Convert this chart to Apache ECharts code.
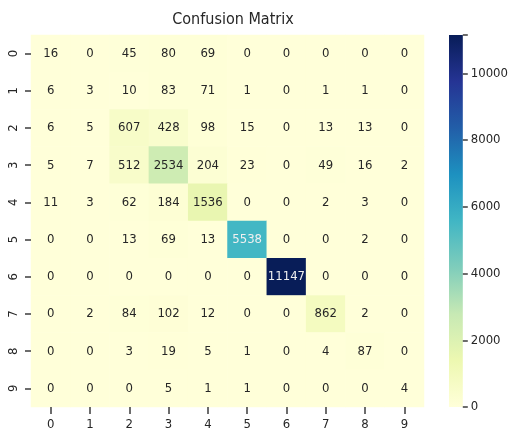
<!DOCTYPE html>
<html>
<head>
<meta charset="utf-8">
<script src="https://cdn.jsdelivr.net/npm/echarts@6/dist/echarts.min.js"></script>
<style>html,body{margin:0;padding:0;background:#fff}#chart{width:511px;height:432px}</style>
</head>
<body>
<div id="chart"></div>
<script>
const classes = ['0','1','2','3','4','5','6','7','8','9'];
const matrix = [
  [16, 0, 45, 80, 69, 0, 0, 0, 0, 0],
  [6, 3, 10, 83, 71, 1, 0, 1, 1, 0],
  [6, 5, 607, 428, 98, 15, 0, 13, 13, 0],
  [5, 7, 512, 2534, 204, 23, 0, 49, 16, 2],
  [11, 3, 62, 184, 1536, 0, 0, 2, 3, 0],
  [0, 0, 13, 69, 13, 5538, 0, 0, 2, 0],
  [0, 0, 0, 0, 0, 0, 11147, 0, 0, 0],
  [0, 2, 84, 102, 12, 0, 0, 862, 2, 0],
  [0, 0, 3, 19, 5, 1, 0, 4, 87, 0],
  [0, 0, 0, 5, 1, 1, 0, 0, 0, 4]
];
const maxVal = 11147;
const barTicks = [0, 2000, 4000, 6000, 8000, 10000];
// YlGnBu
const palette = ['#ffffd9','#edf8b1','#c7e9b4','#7fcdbb','#41b6c4','#1d91c0','#225ea8','#253494','#081d58'];

const font = '"DejaVu Sans Condensed", "DejaVu Sans", sans-serif';
const cells = [];
matrix.forEach((row, r) => row.forEach((v, c) => {
  cells.push({ value: [c, r, v], label: { color: v > 4000 ? '#f0f0f0' : '#262626' } });
}));

const chart = echarts.init(document.getElementById('chart'));
chart.setOption({
  animation: false,
  title: { text: 'Confusion Matrix', left: 228, top: 7, textAlign: 'center',
    textStyle: { fontFamily: font, fontSize: 16, fontWeight: 'normal', color: '#262626' } },
  grid: [
    { left: 31, top: 35, width: 393, height: 372 },
    { left: 449, top: 35, width: 15, height: 372 }
  ],
  xAxis: [
    { type: 'category', data: classes, gridIndex: 0, position: 'bottom', z: 10,
      axisLine: { show: true, lineStyle: { color: 'rgb(60,60,60)', width: 0, opacity: 0 } },
      splitArea: { show: false },
      axisTick: { show: true, interval: 0, alignWithLabel: true, length: 7, inside: false,
        lineStyle: { color: 'rgb(60,60,60)', width: 1.5, opacity: 1 } },
      axisLabel: { margin: 11, fontFamily: font, fontSize: 13, color: '#262626' } },
    { type: 'category', data: [''], gridIndex: 1, show: false }
  ],
  yAxis: [
    { type: 'category', data: classes, gridIndex: 0, inverse: true, z: 10,
      axisLine: { show: true, lineStyle: { color: 'rgb(60,60,60)', width: 0, opacity: 0 } },
      splitArea: { show: false },
      axisTick: { show: true, interval: 0, alignWithLabel: true, length: 6, inside: false,
        lineStyle: { color: 'rgb(60,60,60)', width: 1.5, opacity: 1 } },
      axisLabel: { rotate: 90, margin: 11, fontFamily: font, fontSize: 13, color: '#262626' } },
    { type: 'value', gridIndex: 1, position: 'right', min: 0, max: maxVal, interval: 2000, z: 10,
      splitLine: { show: false },
      axisLine: { show: true, lineStyle: { color: 'rgb(60,60,60)', width: 0, opacity: 0 } },
      axisTick: { show: true, length: 5, inside: false,
        lineStyle: { color: 'rgb(60,60,60)', width: 1.5, opacity: 1 } },
      axisLabel: { margin: 8, fontFamily: font, fontSize: 13, color: '#262626',
        formatter: v => barTicks.includes(v) ? String(v) : '' } }
  ],
  visualMap: { show: false, min: 0, max: maxVal, dimension: 2, seriesIndex: 0,
    inRange: { color: palette } },
  series: [
    { type: 'heatmap', xAxisIndex: 0, yAxisIndex: 0, data: cells,
      label: { show: true, fontFamily: font, fontSize: 13 } },
    { type: 'bar', xAxisIndex: 1, yAxisIndex: 1, data: [maxVal], barWidth: '100%',
      silent: true,
      itemStyle: { color: new echarts.graphic.LinearGradient(0, 1, 0, 0,
        palette.map((c, i) => ({ offset: i / (palette.length - 1), color: c }))) } }
  ]
});
</script>
</body>
</html>
